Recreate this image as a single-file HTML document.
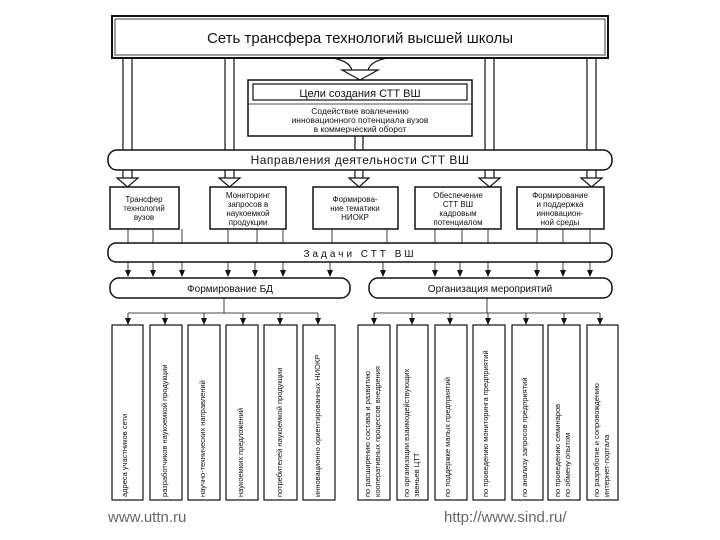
<!DOCTYPE html>
<html><head><meta charset="utf-8"><style>
html,body{margin:0;padding:0;background:#fff;width:720px;height:540px;overflow:hidden}
svg{display:block}
text{font-family:"Liberation Sans",sans-serif;fill:#111}
</style></head><body>
<svg width="720" height="540" viewBox="0 0 720 540" xmlns="http://www.w3.org/2000/svg">
<g stroke="#111" fill="none" stroke-width="1.2">
<rect x="112" y="16" width="496" height="42" stroke-width="2"/>
<rect x="115" y="19" width="490" height="36" stroke-width="0.8"/>
<path d="M123 58V178M132 58V178M225 58V178M234 58V178M485 58V178M494 58V178M587 58V178M596 58V178"/>
<path d="M355 135V178M363 135V178"/>
<g fill="#fff">
<path d="M117 178H138L127.5 187Z"/><path d="M219 178H240L229.5 187Z"/><path d="M349 178H369L359 187Z"/><path d="M479 178H500L489.5 187Z"/><path d="M581 178H602L591.5 187Z"/>
</g>
<path d="M333 58 Q352 62 352 72 M387 58 Q368 62 368 72"/>
<path d="M342 70H378L360 80Z" fill="#fff"/>
<rect x="248" y="80" width="224" height="56" fill="#fff" stroke-width="1.5"/>
<rect x="253" y="84" width="214" height="16"/>
<line x1="248" y1="104" x2="472" y2="104" stroke-width="0.8"/>
<rect x="108" y="150" width="504" height="20" rx="9" fill="#fff" stroke-width="1.5"/>
<rect x="110" y="187" width="69" height="42" stroke-width="1.5"/>
<rect x="210" y="187" width="76" height="42" stroke-width="1.5"/>
<rect x="313" y="187" width="85" height="42" stroke-width="1.5"/>
<rect x="415" y="187" width="86" height="42" stroke-width="1.5"/>
<rect x="517" y="187" width="87" height="42" stroke-width="1.5"/>
<path d="M128 229V243M153 229V243M182 229V243M228 229V243M257 229V243M283 229V243M332 229V243M387 229V243M435 229V243M462 229V243M488 229V243M537 229V243M563 229V243M590 229V243" stroke-width="0.8"/>
<rect x="108" y="243" width="504" height="19" rx="8" stroke-width="1.5"/>
<path d="M128 262V271M153 262V271M182 262V271M228 262V271M255 262V271M283 262V271M330 262V271M383 262V271M435 262V271M460 262V271M488 262V271M537 262V271M563 262V271M590 262V271" stroke-width="0.8"/>
<rect x="110" y="278" width="240" height="20" rx="9" stroke-width="1.5"/>
<rect x="369" y="278" width="243" height="20" rx="9" stroke-width="1.5"/>
<path d="M224 298V313M128 313H318M487 298V313M374 313H600" stroke-width="0.8"/>
<path d="M128 313V319M165 313V319M204 313V319M243 313V319M280 313V319M318 313V319M374 313V319M412 313V319M450 313V319M488 313V319M526 313V319M564 313V319M600 313V319" stroke-width="0.8"/>
<g stroke-width="1.2">
<rect x="112" y="325" width="31" height="175"/><rect x="150" y="325" width="32" height="175"/><rect x="188" y="325" width="32" height="175"/><rect x="226" y="325" width="32" height="175"/><rect x="264" y="325" width="33" height="175"/><rect x="303" y="325" width="32" height="175"/>
<rect x="358" y="325" width="32" height="175"/><rect x="397" y="325" width="31" height="175"/><rect x="435" y="325" width="32" height="175"/><rect x="473" y="325" width="32" height="175"/><rect x="512" y="325" width="31" height="175"/><rect x="548" y="325" width="32" height="175"/><rect x="587" y="325" width="31" height="175"/>
</g>
</g>
<g fill="#111" stroke="none">
<path d="M125 270h6l-3 7zM150 270h6l-3 7zM179 270h6l-3 7zM225 270h6l-3 7zM252 270h6l-3 7zM280 270h6l-3 7zM327 270h6l-3 7zM380 270h6l-3 7zM432 270h6l-3 7zM457 270h6l-3 7zM485 270h6l-3 7zM534 270h6l-3 7zM560 270h6l-3 7zM587 270h6l-3 7z"/>
<path d="M125 318h6l-3 7zM162 318h6l-3 7zM201 318h6l-3 7zM240 318h6l-3 7zM277 318h6l-3 7zM315 318h6l-3 7zM371 318h6l-3 7zM409 318h6l-3 7zM447 318h6l-3 7zM485 318h6l-3 7zM523 318h6l-3 7zM561 318h6l-3 7zM597 318h6l-3 7z"/>
</g>
<g text-anchor="middle">
<text x="360" y="43" font-size="15">Сеть трансфера технологий высшей школы</text>
<text x="360" y="97" font-size="11">Цели создания СТТ ВШ</text>
<text x="360" y="114" font-size="8.5">Содействие вовлечению</text>
<text x="360" y="123" font-size="8.5">инновационного потенциала вузов</text>
<text x="360" y="132" font-size="8.5">в коммерческий оборот</text>
<text x="360" y="164" font-size="12" letter-spacing="0.5">Направления  деятельности  СТТ ВШ</text>
<g font-size="8">
<text x="144" y="202">Трансфер</text><text x="144" y="211">технологий</text><text x="144" y="220">вузов</text>
<text x="248" y="198">Мониторинг</text><text x="248" y="207">запросов в</text><text x="248" y="216">наукоемкой</text><text x="248" y="225">продукции</text>
<text x="355" y="202">Формирова-</text><text x="355" y="211">ние тематики</text><text x="355" y="220">НИОКР</text>
<text x="458" y="198">Обеспечение</text><text x="458" y="207">СТТ ВШ</text><text x="458" y="216">кадровым</text><text x="458" y="225">потенциалом</text>
<text x="560" y="198">Формирование</text><text x="560" y="207">и поддержка</text><text x="560" y="216">инновацион-</text><text x="560" y="225">ной среды</text>
</g>
<text x="360" y="257" font-size="10" letter-spacing="3">Задачи  СТТ   ВШ</text>
<text x="230" y="292" font-size="10">Формирование БД</text>
<text x="490" y="292" font-size="10">Организация мероприятий</text>
</g>
<g font-size="7.5">
<text transform="translate(127,497) rotate(-90)">адреса участников сети</text>
<text transform="translate(167,497) rotate(-90)">разработчиков наукоемкой продукции</text>
<text transform="translate(205,497) rotate(-90)">научно-технических направлений</text>
<text transform="translate(243,497) rotate(-90)">наукоемких предложений</text>
<text transform="translate(282,497) rotate(-90)">потребителей наукоемкой продукции</text>
<text transform="translate(320,497) rotate(-90)">инновационно ориентированных НИОКР</text>
<text transform="translate(370,497) rotate(-90)">по расширению состава и развитию</text>
<text transform="translate(380,497) rotate(-90)">кооперативных процессов внедрения</text>
<text transform="translate(409,497) rotate(-90)">по организации взаимодействующих</text>
<text transform="translate(419,497) rotate(-90)">звеньев ЦТТ</text>
<text transform="translate(450,497) rotate(-90)">по поддержке малых предприятий</text>
<text transform="translate(488,497) rotate(-90)">по проведению мониторинга предприятий</text>
<text transform="translate(527,497) rotate(-90)">по анализу запросов предприятий</text>
<text transform="translate(560,497) rotate(-90)">по проведению семинаров</text>
<text transform="translate(570,497) rotate(-90)">по обмену опытом</text>
<text transform="translate(599,497) rotate(-90)">по разработке и сопровождению</text>
<text transform="translate(609,497) rotate(-90)">интернет-портала</text>
</g>
<text x="108" y="522" font-size="15" style="fill:#666">www.uttn.ru</text>
<text x="444" y="522" font-size="15" style="fill:#666">http://www.sind.ru/</text>
</svg>
</body></html>
